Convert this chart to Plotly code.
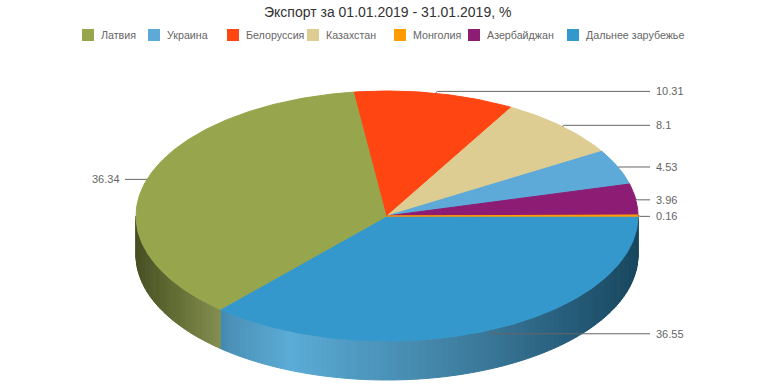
import numpy as np
import plotly.graph_objects as go

# ---------------- data ----------------
categories = ["Латвия", "Украина", "Белоруссия", "Казахстан", "Монголия", "Азербайджан", "Дальнее зарубежье"]
values = [36.34, 4.53, 10.31, 8.1, 0.16, 3.96, 36.55]
colors = ["#97a54c", "#5da9d7", "#ff4512", "#ddcd92", "#ff9a00", "#8c1c74", "#3498cc"]
# order in which the slices are laid out (clockwise from 3 o'clock)
slice_order = ["Дальнее зарубежье", "Латвия", "Белоруссия", "Казахстан", "Украина", "Азербайджан", "Монголия"]
title_text = "Экспорт за 01.01.2019 - 31.01.2019, %"

# ---------------- geometry / style ----------------
W, H = 774, 387
CX, CY, RX, RY, DEPTH = 387, 216, 251, 125, 39
FONT = "Liberation Sans, Arial, Helvetica, sans-serif"
LEGEND_X = [82, 148, 227, 307, 394, 468, 567]
LEGEND_Y = 35

side_stops = {
    "Дальнее зарубежье": [(220, (68, 136, 172)), (232, (76, 146, 186)), (290, (91, 172, 214)),
                          (350, (80, 155, 195)), (420, (70, 138, 174)), (500, (55, 115, 148)),
                          (560, (40, 95, 125)), (610, (30, 80, 105)), (640, (24, 70, 94))],
    "Латвия": [(136, (72, 80, 36)), (180, (102, 113, 55)), (221, (134, 143, 82))],
}
light_x = [136, 220, 290, 400, 520, 640]
light_v = [0.5, 0.86, 1.05, 0.87, 0.7, 0.48]


def hex_rgb(h):
    h = h.lstrip("#")
    return tuple(int(h[i:i + 2], 16) for i in (0, 2, 4))


def side_color(name, x):
    if name in side_stops:
        st = side_stops[name]
        xs = [s[0] for s in st]
        rgb = [np.interp(x, xs, [s[1][k] for s in st]) for k in range(3)]
    else:
        base = hex_rgb(colors[categories.index(name)])
        f = np.interp(x, light_x, light_v)
        rgb = [min(255, c * f) for c in base]
    return "rgb(%d,%d,%d)" % tuple(int(round(c)) for c in rgb)


def pt(theta, dy=0.0):
    t = np.radians(theta)
    return CX + RX * np.cos(t), CY + RY * np.sin(t) + dy


total = sum(values)
slices = []
a = 0.0
for name in slice_order:
    v = values[categories.index(name)]
    sweep = v / total * 360.0
    slices.append((name, v, a, a + sweep))
    a += sweep

fig = go.Figure()

# ---- side walls (front half only) ----
for name, v, a0, a1 in slices:
    s0, s1 = max(a0, 0.0), min(a1, 180.0)
    if s1 <= s0:
        continue
    n = max(2, int((s1 - s0) / 1.2))
    th = np.linspace(s0, s1, n + 1)
    for i in range(n):
        x1, y1 = pt(th[i])
        x2, y2 = pt(th[i + 1])
        col = side_color(name, (x1 + x2) / 2)
        fig.add_trace(go.Scatter(
            x=[x1, x2, x2, x1, x1], y=[y1, y2, y2 + DEPTH, y1 + DEPTH, y1],
            mode="lines", fill="toself", fillcolor=col,
            line=dict(color=col, width=1), hoverinfo="skip", showlegend=False))

# ---- top faces ----
for name, v, a0, a1 in slices:
    col = colors[categories.index(name)]
    n = max(2, int(np.ceil((a1 - a0) / 0.8)))
    th = np.linspace(a0, a1, n + 1)
    xs, ys = [CX], [CY]
    for t in th:
        x, y = pt(t)
        xs.append(x)
        ys.append(y)
    xs.append(CX)
    ys.append(CY)
    fig.add_trace(go.Scatter(
        x=xs, y=ys, mode="lines", fill="toself", fillcolor=col,
        line=dict(color=col, width=1.5 if (a1 - a0) < 2 else 1), name=name,
        hovertemplate="%s: %s<extra></extra>" % (name, v), showlegend=False))

# ---- data labels with connectors ----
annotations = []
right, left = [], []
for name, v, a0, a1 in slices:
    mid = (a0 + a1) / 2
    ex, ey = pt(mid)
    ly = CY + 1 + (RY + 3) * np.sin(np.radians(mid))
    (right if np.cos(np.radians(mid)) >= 0 else left).append([ly, ex, ey, v])

for group, sgn in ((right, 1), (left, -1)):
    group.sort()
    for i in range(1, len(group)):
        if group[i][0] - group[i - 1][0] < 14:
            group[i][0] = group[i - 1][0] + 14
    lx = CX + RX + 16 if sgn > 0 else CX - RX - 14
    for ly, ex, ey, v in group:
        lend = lx - 4 if sgn > 0 else lx + 3
        fig.add_trace(go.Scatter(
            x=[ex, ex + 2 * sgn, lend], y=[ey, ly, ly], mode="lines",
            line=dict(color="#666666", width=1), hoverinfo="skip", showlegend=False))
        annotations.append(dict(
            x=lx, y=ly, xref="x", yref="y", text=str(v), showarrow=False,
            xanchor="left" if sgn > 0 else "right", yanchor="middle",
            font=dict(family=FONT, size=11, color="#666666")))

# ---- legend (drawn as in the reference, single row) ----
for i, name in enumerate(categories):
    fig.add_trace(go.Scatter(
        x=[LEGEND_X[i] + 6], y=[LEGEND_Y], mode="markers",
        marker=dict(symbol="square", size=12, color=colors[i], line=dict(width=0)),
        hoverinfo="skip", showlegend=False))
    annotations.append(dict(
        x=LEGEND_X[i] + 17, y=LEGEND_Y, xref="x", yref="y", text=name, showarrow=False,
        xanchor="left", yanchor="middle",
        font=dict(family=FONT, size=10.7, color="#666666")))

annotations.append(dict(
    x=W / 2, y=12, xref="x", yref="y", text=title_text, showarrow=False,
    xanchor="center", yanchor="middle", font=dict(family=FONT, size=14, color="#333333")))

fig.update_layout(
    width=W, height=H, margin=dict(l=0, r=0, t=0, b=0),
    paper_bgcolor="white", plot_bgcolor="white", showlegend=False,
    xaxis=dict(range=[0, W], visible=False, fixedrange=True),
    yaxis=dict(range=[H, 0], visible=False, fixedrange=True),
    annotations=annotations,
)

fig.write_html("out.html", config={"displayModeBar": False},
               post_script="document.body.style.margin='0';")
